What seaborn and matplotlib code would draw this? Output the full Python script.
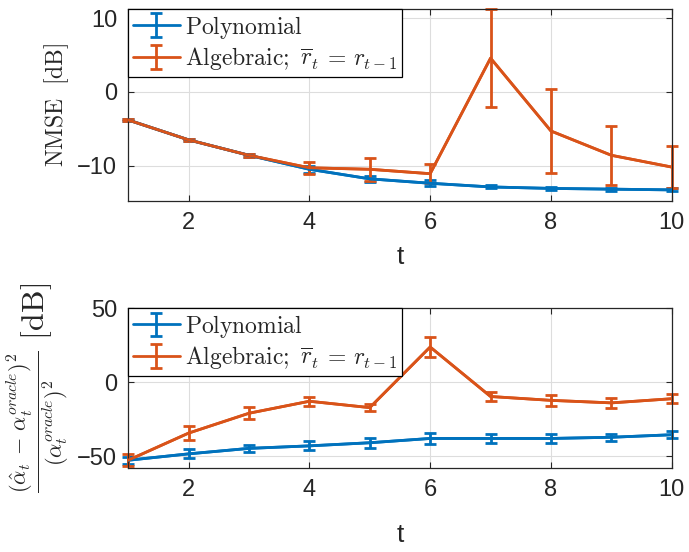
import numpy as np
import pandas as pd
import matplotlib
matplotlib.use("Agg")
import matplotlib.pyplot as plt
import seaborn as sns

t = list(range(1, 11))

# top panel: NMSE [dB]
nmse_poly = [-3.8, -6.5, -8.6, -10.5, -11.8, -12.4, -12.9, -13.1, -13.2, -13.3]
nmse_poly_err = [0.1, 0.1, 0.2, 0.5, 0.4, 0.4, 0.2, 0.2, 0.2, 0.2]
nmse_alg = [-3.8, -6.5, -8.6, -10.3, -10.5, -11.1, 4.6, -5.3, -8.6, -10.2]
nmse_alg_err = [0.1, 0.1, 0.2, 0.8, 1.6, 1.3, 6.7, 5.7, 4.0, 2.8]

# bottom panel: alpha error [dB]
alpha_poly = [-52.7, -48.4, -44.7, -43.0, -40.9, -38.0, -38.0, -38.0, -37.2, -35.5]
alpha_poly_err = [2.5, 3.0, 2.5, 3.0, 3.5, 3.5, 3.0, 3.0, 2.5, 2.5]
alpha_alg = [-52.7, -34.4, -21.0, -12.9, -17.2, 23.7, -9.7, -12.3, -14.0, -11.2]
alpha_alg_err = [4.0, 4.5, 4.0, 3.0, 2.5, 6.5, 3.0, 3.5, 3.5, 3.0]

labels = [r"$\mathrm{Polynomial}$", r"$\mathrm{Algebraic;}\ \overline{r}_t\,=\,r_{t-1}$"]
colors = ["#0072BD", "#D95319"]

sns.set_style("whitegrid")
plt.rcParams["mathtext.fontset"] = "cm"
plt.rcParams["font.family"] = ["Liberation Sans", "DejaVu Sans"]

fig = plt.figure(figsize=(6.89, 5.52), dpi=100)
ax1 = fig.add_axes([0.186, 0.636, 0.789, 0.348])
ax2 = fig.add_axes([0.186, 0.152, 0.789, 0.290])


def panel(ax, series, errs, ylim, yticks, ylabel, ylabel_size, xpad):
    df = pd.DataFrame({"t": t * 2,
                       "value": series[0] + series[1],
                       "method": ["poly"] * 10 + ["alg"] * 10})
    sns.lineplot(data=df, x="t", y="value", hue="method", palette=colors,
                 linewidth=2.0, ax=ax, legend=False, zorder=3)
    handles = []
    for y, e, c in zip(series, errs, colors):
        h = ax.errorbar(t, y, yerr=e, fmt="-", color=c, lw=2.0, elinewidth=2.0,
                        capsize=4, capthick=2.0, zorder=2)
        for art in h.lines[1] + h.lines[2]:
            art.set_clip_on(False)
        handles.append(h)
    ax.set_xlim(1, 10)
    ax.set_ylim(*ylim)
    ax.set_xticks([2, 4, 6, 8, 10])
    ax.set_yticks(yticks)
    ax.tick_params(labelsize=17, direction="in", length=4, pad=8, top=True,
                   right=True, bottom=True, left=True, color="#262626")
    ax.grid(True, color="#dddddd", linewidth=0.8)
    for s in ax.spines.values():
        s.set_color("#262626")
        s.set_linewidth(0.9)
    ax.set_xlabel("t", fontsize=19, labelpad=xpad)
    ax.set_ylabel(ylabel, fontsize=ylabel_size, labelpad=4)
    leg = ax.legend(handles, labels, loc="upper left", fontsize=17,
                    frameon=True, fancybox=False, edgecolor="black",
                    borderaxespad=0.0, handlelength=2.0, handletextpad=0.2,
                    borderpad=0.2, labelspacing=0.2, framealpha=1)
    leg.get_frame().set_linewidth(0.9)
    leg.set_zorder(5)


panel(ax1, [nmse_poly, nmse_alg], [nmse_poly_err, nmse_alg_err],
      (-14.8, 11.3), [-10, 0, 10], r"$\mathrm{NMSE\ \ [dB]}$", 17, 8)
panel(ax2, [alpha_poly, alpha_alg], [alpha_poly_err, alpha_alg_err],
      (-58, 50), [-50, 0, 50],
      r"$\frac{(\hat{\alpha}_t\,-\,\alpha_t^{oracle})^2}{(\alpha_t^{oracle})^2}\ \mathrm{[dB]}$", 23, 16)

fig.savefig("out.png", dpi=100)
